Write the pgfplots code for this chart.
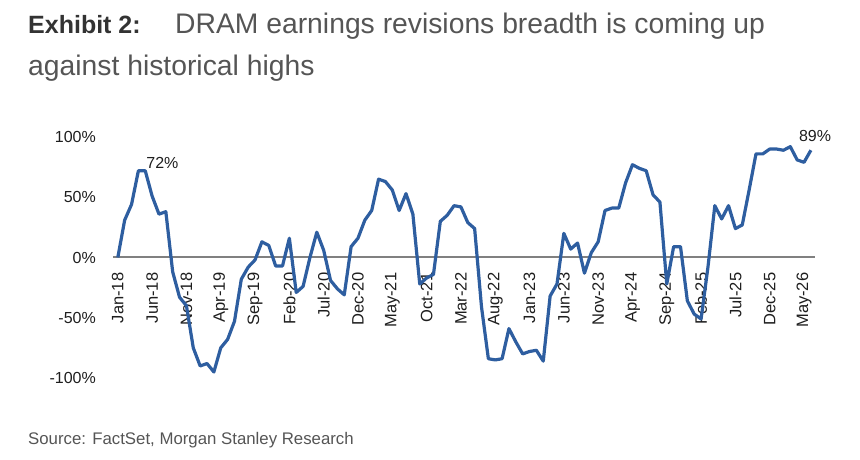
\documentclass[border=0pt]{standalone}
\usepackage{fontspec}
\setmainfont{Liberation Sans}
\usepackage{pgfplots}
\usepackage{pgfplotstable}
\pgfplotsset{compat=1.18}
\definecolor{lineblue}{RGB}{46,94,160}
\definecolor{titlegray}{RGB}{85,85,85}
\definecolor{boldgray}{RGB}{51,51,51}
\definecolor{zerogray}{RGB}{128,128,128}
\definecolor{ticktext}{RGB}{30,30,30}
\pgfplotstableread{
i v
0 0
1 31
2 44
3 72
4 72
5 51
6 36
7 38
8 -12
9 -33
10 -40
11 -75
12 -90
13 -88
14 -95
15 -75
16 -68
17 -53
18 -18
19 -8
20 -2
21 13
22 10
23 -7
24 -7
25 16
26 -29
27 -24
28 0
29 21
30 6
31 -19
32 -26
33 -31
34 9
35 16
36 31
37 39
38 65
39 63
40 56
41 39
42 53
43 36
44 -22
45 -17
46 -14
47 30
48 35
49 43
50 42
51 29
52 24
53 -41
54 -84
55 -85
56 -84
57 -59
58 -70
59 -80
60 -78
61 -77
62 -86
63 -32
64 -22
65 20
66 7
67 12
68 -13
69 4
70 13
71 39
72 41
73 41
74 62
75 77
76 74
77 72
78 52
79 46
80 -22
81 9
82 9
83 -36
84 -47
85 -51
86 -8
87 43
88 32
89 43
90 24
91 27
92 56
93 86
94 86
95 90
96 90
97 89
98 92
99 81
100 79
101 89
}\dramdata
\begin{document}
\begin{tikzpicture}[x=1pt,y=1pt]
\useasboundingbox (0,0) rectangle (860,460);
\node[anchor=base west, inner sep=0pt, text=boldgray, font=\fontsize{25}{30}\selectfont\bfseries] at (28,426.7) {Exhibit 2:};
\node[anchor=base west, inner sep=0pt, text=titlegray, font=\fontsize{28.3}{32}\selectfont] at (175,426.7) {DRAM earnings revisions breadth is coming up};
\node[anchor=base west, inner sep=0pt, text=titlegray, font=\fontsize{28.3}{32}\selectfont] at (28,384.3) {against historical highs};
\node[anchor=base west, inner sep=0pt, text=titlegray, font=\fontsize{16.8}{20}\selectfont] at (28,15) {Source: FactSet, Morgan Stanley Research};
\begin{axis}[
  at={(113pt,82pt)}, anchor=south west,
  scale only axis, width=702pt, height=241pt,
  xmin=-0.7, xmax=101.6, ymin=-100, ymax=100,
  axis x line*=middle, axis y line*=left,
  x axis line style={draw=zerogray, line width=2pt},
  y axis line style={draw=none},
  hide obscured x ticks=false, hide obscured y ticks=false,
  major tick length=0pt, tick style={draw=none},
  xtick={0,5,...,100},
  xticklabels={Jan-18,Jun-18,Nov-18,Apr-19,Sep-19,Feb-20,Jul-20,Dec-20,May-21,Oct-21,Mar-22,Aug-22,Jan-23,Jun-23,Nov-23,Apr-24,Sep-24,Feb-25,Jul-25,Dec-25,May-26},
  xticklabel style={rotate=90, anchor=east, inner sep=0pt, text=ticktext, font=\fontsize{16.5}{19}\selectfont},
  xticklabel shift=15pt,
  ytick={-100,-50,0,50,100},
  yticklabels={-100\%,-50\%,0\%,50\%,100\%},
  yticklabel style={anchor=east, inner sep=0pt, text=ticktext, font=\fontsize{16}{19}\selectfont},
  yticklabel shift=17pt,
  clip=false,
]
\addplot[lineblue, line width=3.2pt, line join=round, no marks] table[x=i, y=v] {\dramdata};
\node[anchor=south west, inner sep=0pt, text=ticktext, font=\fontsize{16}{19}\selectfont] at (axis cs:4,72) [xshift=1pt, yshift=2pt] {72\%};
\node[anchor=south west, inner sep=0pt, text=ticktext, font=\fontsize{16}{19}\selectfont] at (axis cs:101,89) [xshift=-12pt, yshift=8pt] {89\%};
\end{axis}
\end{tikzpicture}
\end{document}
